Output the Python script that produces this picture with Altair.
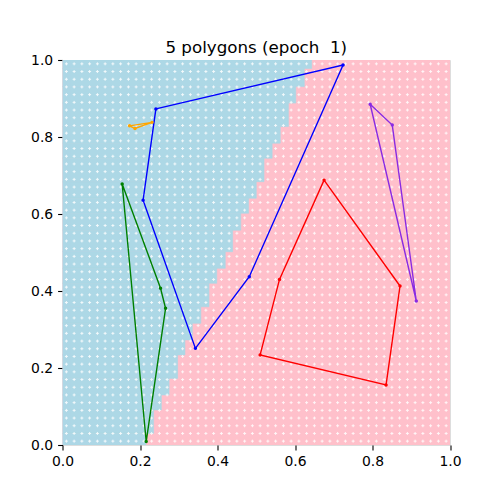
import altair as alt
import pandas as pd
import numpy as np

TITLE = "5 polygons (epoch\u00a0 1)"

# Background decision regions, read as horizontal bands:
# each band spans [band_bottom, band_top] in y; left of band_x is light blue, right is pink
band_top = [1.000, 0.978, 0.931, 0.888, 0.827, 0.784, 0.745, 0.684, 0.641, 0.602, 0.558,
            0.502, 0.459, 0.420, 0.359, 0.316, 0.273, 0.234, 0.173, 0.130, 0.091, 0.030]
band_bottom = band_top[1:] + [0.0]
band_x = [0.643, 0.624, 0.602, 0.583, 0.562, 0.541, 0.520, 0.500, 0.480, 0.460, 0.439,
          0.420, 0.398, 0.378, 0.357, 0.335, 0.316, 0.297, 0.275, 0.255, 0.235, 0.215]

# sampling grid (white + markers)
grid_n = 50

# polygons
poly_names = ["blue", "orange", "green", "red", "purple"]
poly_colors = ["#0000ff", "#ffa500", "#008000", "#ff0000", "#8a2be2"]
blue_x = [0.241, 0.724, 0.482, 0.343, 0.208]
blue_y = [0.873, 0.987, 0.437, 0.251, 0.636]
orange_x = [0.173, 0.231, 0.187]
orange_y = [0.829, 0.838, 0.822]
green_x = [0.154, 0.253, 0.266, 0.216]
green_y = [0.678, 0.407, 0.355, 0.009]
red_x = [0.675, 0.871, 0.835, 0.510, 0.560]
red_y = [0.688, 0.413, 0.156, 0.234, 0.430]
purple_x = [0.794, 0.851, 0.913]
purple_y = [0.885, 0.831, 0.374]

poly_xy = {
    "blue": (blue_x, blue_y),
    "orange": (orange_x, orange_y),
    "green": (green_x, green_y),
    "red": (red_x, red_y),
    "purple": (purple_x, purple_y),
}

# ---- build tables ----
bg_rows = [{"x0": 0.0, "x1": 1.0, "y0": 0.0, "y1": 1.0, "cls": "pink"}]
for t, b, bx in zip(band_top, band_bottom, band_x):
    bg_rows.append({"x0": 0.0, "x1": bx, "y0": b, "y1": t, "cls": "blue"})
bg_df = pd.DataFrame(bg_rows)

centers = (np.arange(grid_n) + 0.5) / grid_n
gx, gy = np.meshgrid(centers, centers)
grid_df = pd.DataFrame({"gx": gx.ravel(), "gy": gy.ravel()})

line_rows, pt_rows = [], []
for name in poly_names:
    xs_, ys_ = poly_xy[name]
    for i, (x, y) in enumerate(zip(xs_, ys_)):
        line_rows.append({"poly": name, "x": x, "y": y, "o": i})
        pt_rows.append({"poly": name, "x": x, "y": y})
    line_rows.append({"poly": name, "x": xs_[0], "y": ys_[0], "o": len(xs_)})
line_df = pd.DataFrame(line_rows)
pt_df = pd.DataFrame(pt_rows)

# ---- scales / axes ----
xs = alt.Scale(domain=[0, 1], nice=False, zero=False)
ys = alt.Scale(domain=[0, 1], nice=False, zero=False)
ticks = [0.0, 0.2, 0.4, 0.6, 0.8, 1.0]
axis_common = dict(values=ticks, format=".1f", title=None, grid=False, domain=False,
                   tickColor="black", tickSize=4.9, tickWidth=1.1, labelPadding=4.9,
                   labelFont="DejaVu Sans", labelFontSize=13.9, labelColor="black",
                   labelFlush=False, labelOverlap=False)
xaxis = alt.Axis(**axis_common)
yaxis = alt.Axis(**axis_common)

color_scale = alt.Scale(domain=poly_names, range=poly_colors)

bg = alt.Chart(bg_df).mark_rect(clip=True).encode(
    x=alt.X("x0:Q", scale=xs, axis=xaxis),
    x2="x1:Q",
    y=alt.Y("y0:Q", scale=ys, axis=yaxis),
    y2="y1:Q",
    color=alt.Color("cls:N", scale=alt.Scale(domain=["blue", "pink"], range=["#add8e6", "#ffc0cb"]), legend=None),
    stroke=alt.Stroke("cls:N", scale=alt.Scale(domain=["blue", "pink"], range=["#add8e6", "#ffc0cb"]), legend=None),
    strokeWidth=alt.value(0.6),
)

grid = alt.Chart(grid_df).mark_point(
    shape="M-1,0H1M0,-1V1", filled=False, stroke="white", strokeWidth=1, size=9, opacity=0.85, clip=True
).encode(
    x=alt.X("gx:Q", scale=xs),
    y=alt.Y("gy:Q", scale=ys),
)

lines = alt.Chart(line_df).mark_line(strokeWidth=1.4, clip=True).encode(
    x=alt.X("x:Q", scale=xs),
    y=alt.Y("y:Q", scale=ys),
    order="o:Q",
    color=alt.Color("poly:N", scale=color_scale, legend=None),
    detail="poly:N",
)

pts = alt.Chart(pt_df).mark_circle(size=12, opacity=1, clip=True).encode(
    x=alt.X("x:Q", scale=xs),
    y=alt.Y("y:Q", scale=ys),
    color=alt.Color("poly:N", scale=color_scale, legend=None),
)

chart = alt.layer(bg, grid, lines, pts).resolve_scale(color="independent").properties(
    width=387.5,
    height=385,
    title=alt.TitleParams(TITLE, font="DejaVu Sans", fontSize=16.7, fontWeight="normal",
                          color="black", anchor="middle", frame="group", baseline="alphabetic",
                          offset=8.3, dy=25),
    autosize=alt.AutoSizeParams(type="none"),
    padding={"left": 54.5, "top": 52, "right": 34, "bottom": 39},
).configure_view(stroke="black", strokeWidth=1.1).configure(background="white")

chart.save("out.html", embed_options={"renderer": "svg", "actions": False})
